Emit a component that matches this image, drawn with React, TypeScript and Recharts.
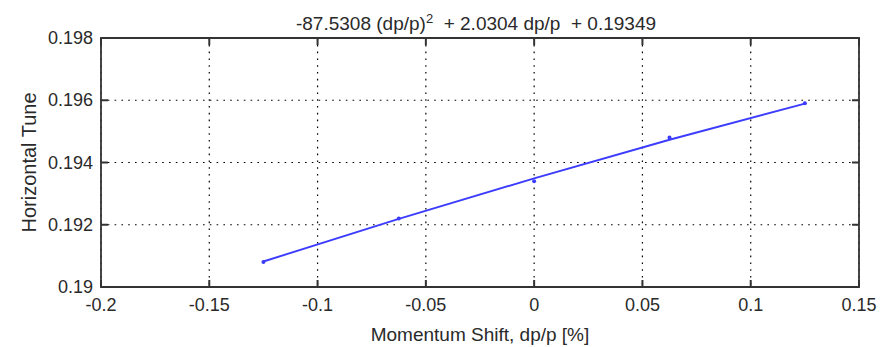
import { ComposedChart, Line, Scatter, XAxis, YAxis, CartesianGrid, ReferenceArea, ReferenceLine } from "recharts";

// momentum shift dp/p [%]
const shifts = [-0.125, -0.0625, 0, 0.0625, 0.125];
// measured horizontal tune
const measured = [0.1908, 0.1922, 0.1934, 0.1948, 0.1959];
// quadratic fit evaluated at the same shifts
const fitted = [0.19082, 0.19219, 0.19349, 0.19473, 0.19589];

const xTicks = [-0.2, -0.15, -0.1, -0.05, 0, 0.05, 0.1, 0.15];
const yTicks = [0.19, 0.192, 0.194, 0.196, 0.198];

const points = shifts.map((x, i) => ({ x, y: measured[i] }));
const fitLine = shifts.map((x, i) => ({ x, y: fitted[i] }));

const X_MIN = -0.2;
const X_MAX = 0.15;
const Y_MIN = 0.19;
const Y_MAX = 0.198;

const W = 888;
const H = 347;
const M = { top: 38, right: 29, left: 0, bottom: 0 };
const Y_AXIS_W = 101;
const X_AXIS_H = 60;
const PLOT_W = W - M.right - Y_AXIS_W;
const PLOT_H = H - M.top - X_AXIS_H;
// inward tick length (7px) in data units
const TX = ((X_MAX - X_MIN) * 7) / PLOT_W;
const TY = ((Y_MAX - Y_MIN) * 7) / PLOT_H;

const FONT = "'Liberation Sans', Arial, sans-serif";
const INK = "#2a2a2a";
const AXIS = "#333";
const BLUE = "#3c3cff";

const BottomTick = (p: any) => (
  <text x={p.x} y={p.y + 18} textAnchor="middle" dominantBaseline="central" fontSize={18} fontFamily={FONT} fill={INK}>
    {p.payload.value}
  </text>
);

const LeftTick = (p: any) => (
  <text x={p.x - 8} y={p.y} textAnchor="end" dominantBaseline="central" fontSize={18} fontFamily={FONT} fill={INK}>
    {p.payload.value}
  </text>
);

const Dot = (p: any) => <circle cx={p.cx} cy={p.cy} r={2} fill={BLUE} />;

export default function App() {
  return (
    <div style={{ position: "absolute", left: 0, top: 0, width: W, height: H, background: "#fff" }}>
      <div
        style={{
          position: "absolute",
          left: 0,
          width: 952,
          top: 7,
          textAlign: "center",
          fontFamily: FONT,
          fontSize: 19,
          color: INK,
          whiteSpace: "pre",
          lineHeight: "24px",
        }}
      >
        -87.5308 (dp/p)<sup style={{ fontSize: 13, verticalAlign: 7 }}>2</sup>  + 2.0304 dp/p  + 0.19349
      </div>
      <ComposedChart width={W} height={H} margin={M}>
        <CartesianGrid stroke="#000" strokeDasharray="1.6 5.2" strokeWidth={1.2} />
        <XAxis
          dataKey="x"
          type="number"
          domain={[X_MIN, X_MAX]}
          ticks={xTicks}
          height={X_AXIS_H}
          allowDataOverflow
          axisLine={false}
          tickLine={false}
          tickSize={0}
          tickMargin={0}
          tick={BottomTick}
          interval={0}
          label={{ value: "Momentum Shift, dp/p [%]", position: "insideBottom", offset: 6, fontSize: 19, fontFamily: FONT, fill: INK }}
        />
        <YAxis
          type="number"
          domain={[Y_MIN, Y_MAX]}
          ticks={yTicks}
          width={Y_AXIS_W}
          allowDataOverflow
          axisLine={false}
          tickLine={false}
          tickSize={0}
          tickMargin={0}
          tick={LeftTick}
          interval={0}
          label={{ value: "Horizontal Tune", angle: -90, position: "insideLeft", offset: 29, fontSize: 20, fontFamily: FONT, fill: INK, style: { textAnchor: "middle" } }}
        />
        {xTicks.map((t) => (
          <ReferenceLine key={`xb${t}`} segment={[{ x: t, y: Y_MIN }, { x: t, y: Y_MIN + TY }]} stroke={AXIS} strokeWidth={2} ifOverflow="visible" />
        ))}
        {xTicks.map((t) => (
          <ReferenceLine key={`xt${t}`} segment={[{ x: t, y: Y_MAX }, { x: t, y: Y_MAX - TY }]} stroke={AXIS} strokeWidth={2} ifOverflow="visible" />
        ))}
        {yTicks.map((t) => (
          <ReferenceLine key={`yl${t}`} segment={[{ x: X_MIN, y: t }, { x: X_MIN + TX, y: t }]} stroke={AXIS} strokeWidth={2} ifOverflow="visible" />
        ))}
        {yTicks.map((t) => (
          <ReferenceLine key={`yr${t}`} segment={[{ x: X_MAX, y: t }, { x: X_MAX - TX, y: t }]} stroke={AXIS} strokeWidth={2} ifOverflow="visible" />
        ))}
        <ReferenceArea x1={X_MIN} x2={X_MAX} y1={Y_MIN} y2={Y_MAX} fill="none" fillOpacity={0} stroke={AXIS} strokeWidth={1.8} ifOverflow="visible" />
        <Line data={fitLine} dataKey="y" type="linear" stroke={BLUE} strokeWidth={1.9} dot={false} isAnimationActive={false} />
        <Scatter data={points} dataKey="y" fill={BLUE} shape={Dot} isAnimationActive={false} />
      </ComposedChart>
    </div>
  );
}
